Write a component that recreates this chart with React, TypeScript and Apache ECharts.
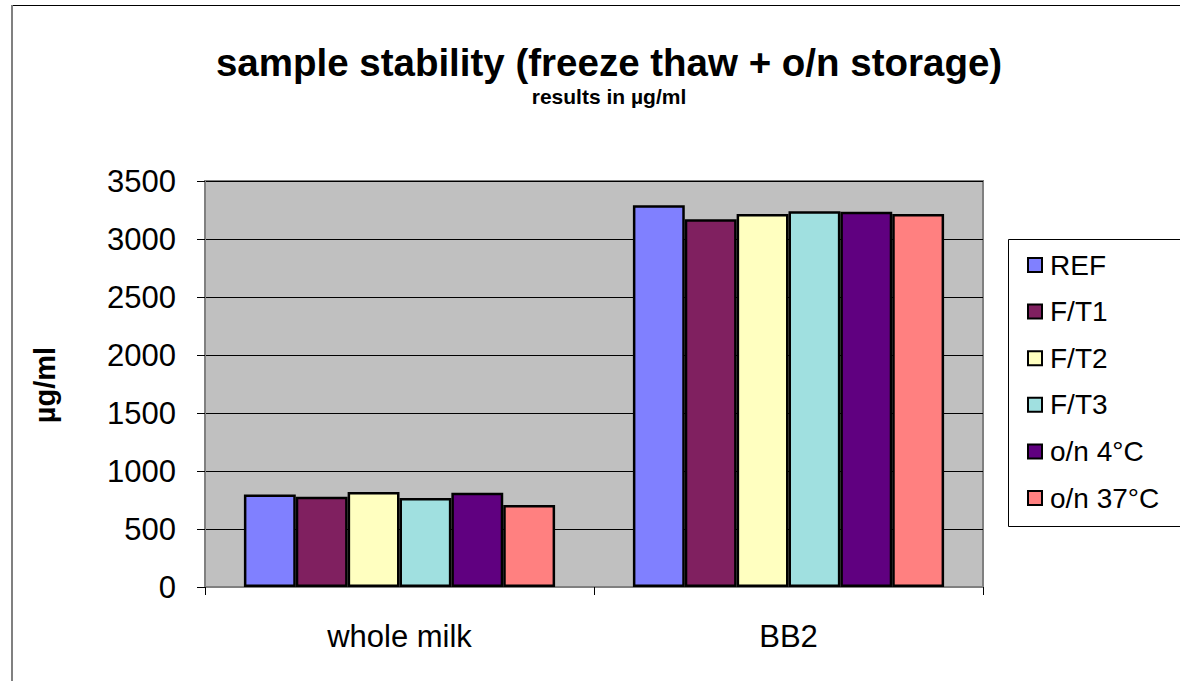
import React, { useEffect, useRef } from "react";
import * as echarts from "echarts";

const categories = ["whole milk", "BB2"];
const seriesNames = ["REF", "F/T1", "F/T2", "F/T3", "o/n 4°C", "o/n 37°C"];
const refValues = [798, 3290];
const ft1Values = [778, 3170];
const ft2Values = [818, 3215];
const ft3Values = [767, 3240];
const on4Values = [812, 3235];
const on37Values = [706, 3215];
const seriesColors = ["#8080FF", "#802060", "#FFFFC0", "#A0E0E0", "#600080", "#FF8080"];
const yTicks = { min: 0, max: 3500, interval: 500 };

const FONT = "'Liberation Sans', Arial, sans-serif";

export default function App() {
  const ref = useRef<HTMLDivElement>(null);
  useEffect(() => {
    if (!ref.current) return;
    const chart = echarts.init(ref.current, null, { renderer: "svg" });
    const allValues = [refValues, ft1Values, ft2Values, ft3Values, on4Values, on37Values];
    const series = seriesNames.map((name, i) => ({
      name,
      type: "bar",
      data: allValues[i],
      barGap: "0%",
      barCategoryGap: "20%",
      itemStyle: { color: seriesColors[i], borderColor: "#000", borderWidth: 2.5 },
    }));
    chart.setOption({
      animation: false,
      backgroundColor: "#fff",
      textStyle: { fontFamily: FONT },
      grid: {
        left: 205,
        top: 181,
        right: 197,
        bottom: 94,
        show: true,
        backgroundColor: "#C0C0C0",
        borderColor: "#808080",
        borderWidth: 2,
        containLabel: false,
      },
      xAxis: {
        type: "category",
        data: categories,
        axisLine: { show: true, lineStyle: { color: "#808080", width: 2 } },
        axisTick: { show: true, length: 8, lineStyle: { color: "#000", width: 1 } },
        axisLabel: { color: "#000", fontSize: 31, fontFamily: FONT, margin: 34 },
      },
      yAxis: {
        type: "value",
        min: yTicks.min,
        max: yTicks.max,
        interval: yTicks.interval,
        axisLine: { show: true, lineStyle: { color: "#808080", width: 2 } },
        axisTick: { show: true, length: 8, lineStyle: { color: "#000", width: 1 } },
        axisLabel: {
          color: "#000",
          fontSize: 31,
          fontFamily: FONT,
          margin: 29,
          formatter: (v: number) => String(v),
        },
        splitLine: { show: true, lineStyle: { color: "#000", width: 1 } },
      },
      legend: {
        orient: "vertical",
        left: 1027,
        top: 251,
        padding: 0,
        itemWidth: 14,
        itemHeight: 14,
        itemGap: 18.6,
        icon: "rect",
        textStyle: { color: "#000", fontSize: 28, lineHeight: 28, fontFamily: FONT, padding: [0, 0, 0, 3] },
        data: seriesNames,
      },
      graphic: [
        { type: "rect", shape: { x: 1150, y: 6, width: 40, height: 233 }, style: { fill: "#fff" }, z: 100 },
        { type: "rect", shape: { x: 12, y: 5, width: 1400, height: 1 }, style: { fill: "#000" } },
        { type: "rect", shape: { x: 11, y: 5, width: 2, height: 900 }, style: { fill: "#808080" } },
        { type: "rect", shape: { x: 1008.5, y: 239.5, width: 400, height: 287 }, style: { fill: "#fff", stroke: "#000", lineWidth: 1 }, z: -1 },
        {
          type: "text",
          x: 609,
          y: 62,
          style: { text: "sample stability (freeze thaw + o/n storage)", font: `bold 38.5px ${FONT}`, fill: "#000", textAlign: "center", textVerticalAlign: "middle" },
        },
        {
          type: "text",
          x: 609,
          y: 96,
          style: { text: "results in µg/ml", font: `bold 21px ${FONT}`, fill: "#000", textAlign: "center", textVerticalAlign: "middle" },
        },
        {
          type: "text",
          x: 45,
          y: 385,
          rotation: Math.PI / 2,
          style: { text: "µg/ml", font: `bold 29px ${FONT}`, fill: "#000", textAlign: "center", textVerticalAlign: "middle" },
        },
      ],
      series,
    });
    return () => chart.dispose();
  }, []);
  return <div ref={ref} style={{ position: "absolute", left: 0, top: 0, width: 1180, height: 681, overflow: "hidden" }} />;
}
